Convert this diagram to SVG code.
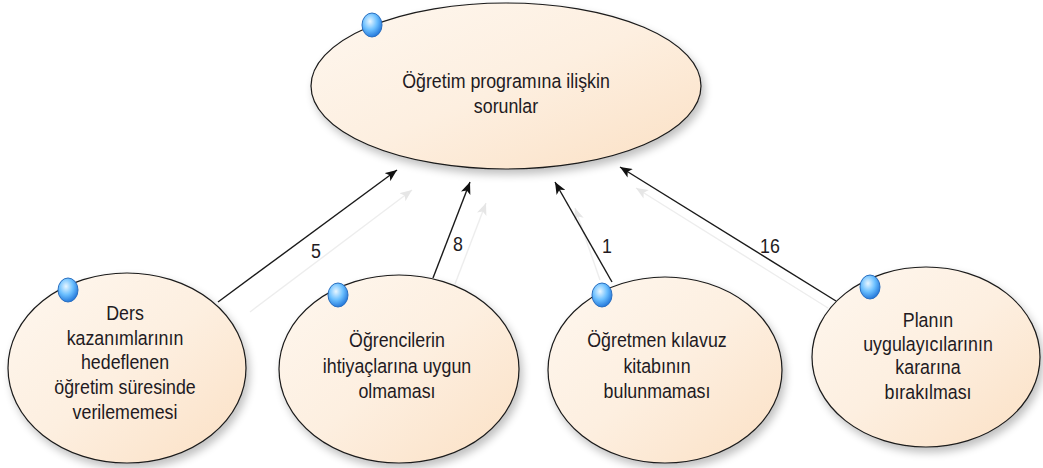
<svg xmlns="http://www.w3.org/2000/svg" width="1043" height="468" viewBox="0 0 1043 468">
  <style>
    .node { fill: url(#peach); stroke: #1a1a1a; stroke-width: 1.2; filter: url(#shade); }
    .label { font-family: "Liberation Sans", Arial, sans-serif; font-size: 17.8px; fill: #221a22; text-anchor: middle; }
    .edge { stroke: #1a1a1a; stroke-width: 1.4; fill: none; marker-end: url(#head); }
    .ghost { stroke: #ededed; stroke-width: 1.4; fill: none; marker-end: url(#ghosthead); }
    .count { font-family: "Liberation Sans", Arial, sans-serif; font-size: 17.8px; fill: #221a22; text-anchor: middle; }
    .pin { fill: url(#bead); stroke: #2a6fc0; stroke-width: 1; }
  </style>
  <defs>
    <linearGradient id="peach" x1="0" y1="0" x2="1" y2="1">
      <stop offset="0" stop-color="#fef7ef"/>
      <stop offset="0.5" stop-color="#fdefe0"/>
      <stop offset="1" stop-color="#fbe0c4"/>
    </linearGradient>
    <radialGradient id="bead" cx="0.4" cy="0.35" r="0.7">
      <stop offset="0" stop-color="#e8f6ff"/>
      <stop offset="0.5" stop-color="#6cc0ff"/>
      <stop offset="1" stop-color="#1b6fd6"/>
    </radialGradient>
    <filter id="shade" x="-10%" y="-10%" width="125%" height="130%">
      <feGaussianBlur in="SourceAlpha" stdDeviation="4"/>
      <feOffset dx="3" dy="5" result="b"/>
      <feComponentTransfer><feFuncA type="linear" slope="0.25"/></feComponentTransfer>
      <feMerge><feMergeNode/><feMergeNode in="SourceGraphic"/></feMerge>
    </filter>
    <marker id="head" viewBox="0 0 12 10" refX="12" refY="5" markerWidth="12" markerHeight="10" markerUnits="userSpaceOnUse" orient="auto">
      <path d="M0,0 L12,5 L0,10 L3,5 Z" fill="#111"/>
    </marker>
    <marker id="ghosthead" viewBox="0 0 12 10" refX="12" refY="5" markerWidth="12" markerHeight="10" markerUnits="userSpaceOnUse" orient="auto">
      <path d="M0,0 L12,5 L0,10 L3,5 Z" fill="#e6e6e6"/>
    </marker>
  </defs>

  <!-- links from causes to the main problem -->
  <g id="connectors">
    <line class="ghost" x1="250" y1="312" x2="412" y2="190"/>
    <line class="ghost" x1="455" y1="284" x2="486" y2="203"/>
    <line class="ghost" x1="600" y1="280" x2="575" y2="208"/>
    <line class="ghost" x1="828" y1="308" x2="636" y2="188"/>
    <line class="edge" x1="218" y1="302" x2="397" y2="170"/>
    <line class="edge" x1="433" y1="278" x2="470" y2="182"/>
    <line class="edge" x1="612" y1="282" x2="555" y2="182"/>
    <line class="edge" x1="836" y1="301" x2="620" y2="167"/>
    <text class="count" transform="translate(316,258) scale(1,1.15)">5</text>
    <text class="count" transform="translate(458,251) scale(1,1.15)">8</text>
    <text class="count" transform="translate(607,253) scale(1,1.15)">1</text>
    <text class="count" transform="translate(770,253) scale(1,1.15)">16</text>
  </g>

  <g id="n-main">
    <ellipse class="node" cx="506" cy="86" rx="195" ry="83"/>
    <text class="label" transform="translate(506,88) scale(1,1.15)">Öğretim programına ilişkin</text>
    <text class="label" transform="translate(506,113) scale(1,1.15)">sorunlar</text>
    <ellipse class="pin" cx="372" cy="25" rx="10" ry="12"/>
  </g>

  <g id="n-sure">
    <ellipse class="node" cx="127" cy="368" rx="119" ry="95"/>
    <text class="label" transform="translate(125,320) scale(1,1.15)">Ders</text>
    <text class="label" transform="translate(125,345) scale(1,1.15)">kazanımlarının</text>
    <text class="label" transform="translate(125,369) scale(1,1.15)">hedeflenen</text>
    <text class="label" transform="translate(125,394) scale(1,1.15)">öğretim süresinde</text>
    <text class="label" transform="translate(125,419) scale(1,1.15)">verilememesi</text>
    <ellipse class="pin" cx="68" cy="290" rx="10" ry="12"/>
  </g>

  <g id="n-ihtiyac">
    <ellipse class="node" cx="399" cy="369" rx="120" ry="94"/>
    <text class="label" transform="translate(397,347) scale(1,1.15)">Öğrencilerin</text>
    <text class="label" transform="translate(397,373) scale(1,1.15)">ihtiyaçlarına uygun</text>
    <text class="label" transform="translate(397,398) scale(1,1.15)">olmaması</text>
    <ellipse class="pin" cx="338" cy="295" rx="10" ry="12"/>
  </g>

  <g id="n-kilavuz">
    <ellipse class="node" cx="665" cy="370" rx="117" ry="93"/>
    <text class="label" transform="translate(657,347) scale(1,1.15)">Öğretmen kılavuz</text>
    <text class="label" transform="translate(657,373) scale(1,1.15)">kitabının</text>
    <text class="label" transform="translate(657,398) scale(1,1.15)">bulunmaması</text>
    <ellipse class="pin" cx="602" cy="295" rx="10" ry="12"/>
  </g>

  <g id="n-uygulayici">
    <ellipse class="node" cx="926" cy="357" rx="114" ry="90"/>
    <text class="label" transform="translate(928,327) scale(1,1.15)">Planın</text>
    <text class="label" transform="translate(928,351) scale(1,1.15)">uygulayıcılarının</text>
    <text class="label" transform="translate(928,374) scale(1,1.15)">kararına</text>
    <text class="label" transform="translate(928,399) scale(1,1.15)">bırakılması</text>
    <ellipse class="pin" cx="870" cy="287" rx="10" ry="12"/>
  </g>
</svg>
